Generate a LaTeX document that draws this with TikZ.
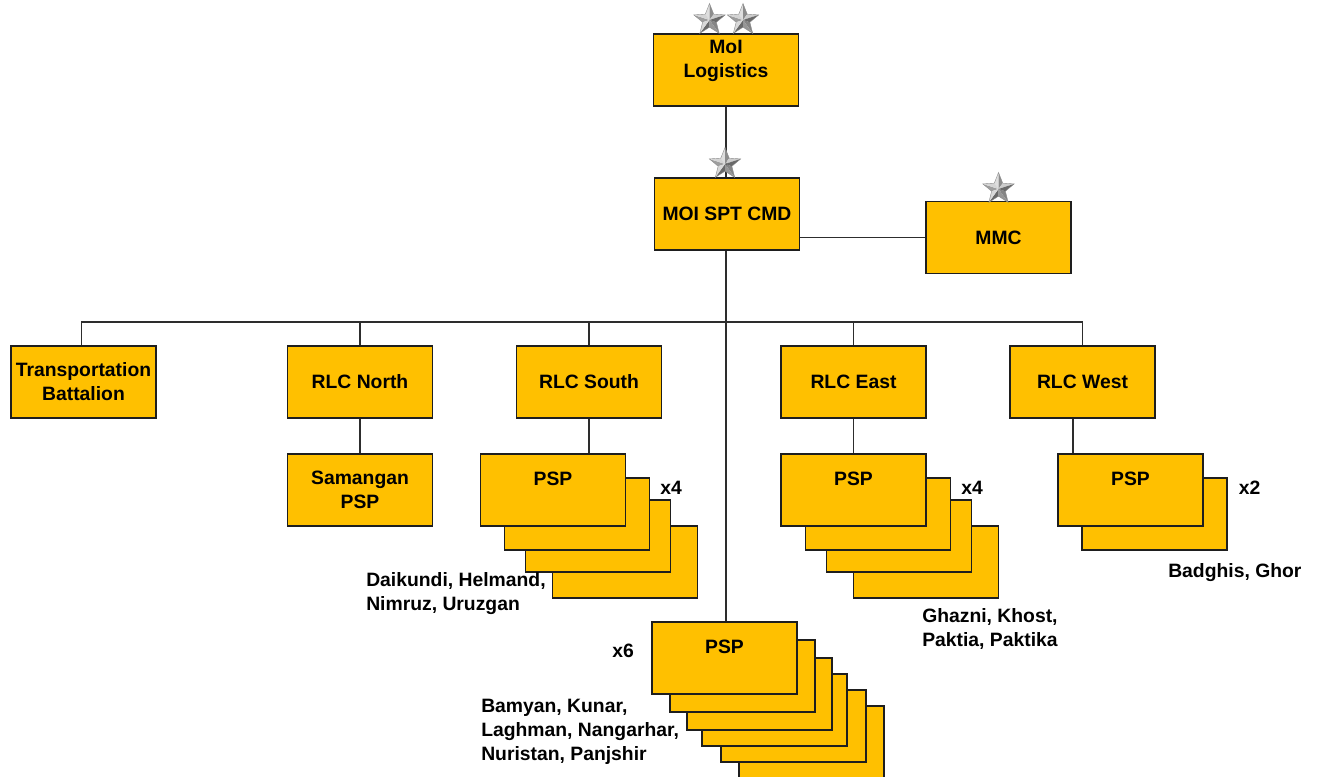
\documentclass[tikz,border=0pt]{standalone}
\usepackage{fontspec}
\setmainfont{Liberation Sans}
\usetikzlibrary{calc}
\definecolor{unitfill}{RGB}{255,192,0}
\definecolor{edgeline}{RGB}{30,30,30}
\definecolor{wireline}{RGB}{45,45,45}

\begin{document}
\begin{tikzpicture}[x=0.75pt,y=-0.75pt,
  unit/.style={draw=edgeline, line width=1.25pt, fill=unitfill,
    minimum width=108.75pt, minimum height=54pt, inner sep=0pt,
    align=center, font=\fontsize{14.5}{18}\selectfont\bfseries},
  caption/.style={inner sep=0pt, align=center, font=\fontsize{14.5}{18}\selectfont\bfseries},
  note/.style={inner sep=0pt, align=left, anchor=west, font=\fontsize{14.5}{18}\selectfont\bfseries},
  wire/.style={draw=wireline, line width=1.1pt},
  rankstar/.pic={
    \begin{scope}[yscale=-1]
      \foreach \k in {0,...,4}{
        \pgfmathsetmacro\a{90+72*\k}
        \pgfmathsetmacro\ia{\a+36}
        \pgfmathsetmacro\ib{\a-36}
        \pgfmathtruncatemacro\da{36-24*cos(\a+68-135)}
        \pgfmathtruncatemacro\db{36-24*cos(\a-68-135)}
        \fill[black!\da] (0,0) -- (\a:16.5) -- (\ia:7.2) -- cycle;
        \fill[black!\db] (0,0) -- (\a:16.5) -- (\ib:7.2) -- cycle;
      }
      \draw[black!45, line width=0.3pt]
        (90:16.5) -- (126:7.2) -- (162:16.5) -- (198:7.2) -- (234:16.5) -- (270:7.2)
        -- (306:16.5) -- (342:7.2) -- (18:16.5) -- (54:7.2) -- cycle;
    \end{scope}
  }
]
\useasboundingbox (0,0) rectangle (1318,777);
\clip (0,0) rectangle (1318,777);

% top of the command chain
\node[unit] (log) at (726,70) {};
\node[caption] (logt) at (726,60.5) {MoI\\Logistics};
\node[unit] (spt) at (727,214) {MOI SPT CMD};
\node[unit] (mmc) at (998.5,237.5) {MMC};

% regional level
\node[unit] (trans) at (83.5,382) {Transportation\\Battalion};
\node[unit] (rn) at (360,382) {RLC North};
\node[unit] (rs) at (589,382) {RLC South};
\node[unit] (re) at (853.5,382) {RLC East};
\node[unit] (rw) at (1082.5,382) {RLC West};

% provincial support points
\node[unit] (sam) at (360,490) {Samangan\\PSP};

\foreach \i/\x/\y in {4/625/562, 3/598/536, 2/577/514, 1/553/490}
  \node[unit] (pS\i) at (\x,\y) {};
\node[caption] (pSt) at ($(pS1.north)+(0,25.5)$) {PSP};

\foreach \i/\x/\y in {4/926/562, 3/899/536, 2/878/514, 1/853.5/490}
  \node[unit] (pE\i) at (\x,\y) {};
\node[caption] (pEt) at ($(pE1.north)+(0,25.5)$) {PSP};

\foreach \i/\x/\y in {2/1154.5/514, 1/1130.5/490}
  \node[unit] (pW\i) at (\x,\y) {};
\node[caption] (pWt) at ($(pW1.north)+(0,25.5)$) {PSP};

\foreach \i/\x/\y in {6/811.5/742, 5/793.5/726, 4/774.5/710, 3/759.5/694, 2/742.5/676, 1/724.5/658}
  \node[unit] (pC\i) at (\x,\y) {};
\node[caption] (pCt) at ($(pC1.north)+(0,25.5)$) {PSP};

% connectors
\coordinate (bus) at (0,322);
\coordinate (rwd) at ($(rw.south)+(-9.5,0)$);
\coordinate (td) at ($(trans.north)+(-2,0)$);
\draw[wire] (log.south) -- (log.south |- spt.north);
\draw[wire] (mmc.west) -- (mmc.west -| spt.east);
\draw[wire] (spt.south) ++(-1,0) coordinate (spine) -- (spine |- pC1.north);
\draw[wire] (td) |- (bus -| rw.north) -- (rw.north);
\foreach \n in {rn,rs,re}
  \draw[wire] (\n.north) -- (\n.north |- bus);
\draw[wire] (rn.south) -- (sam.north);
\draw[wire] (rs.south) -- (rs.south |- pS1.north);
\draw[wire] (re.south) -- (re.south |- pE1.north);
\draw[wire] (rwd) -- (rwd |- pW1.north);

% rank insignia
\pic (s1) at (709.5,20) {rankstar};
\pic (s2) at (743,20) {rankstar};
\pic (s3) at (725,164) {rankstar};
\pic (s4) at (998.5,189) {rankstar};

% counts and province lists
\node[caption] (xS) at (671,488) {x4};
\node[caption] (xE) at (972,488) {x4};
\node[caption] (xW) at (1249.5,488) {x2};
\node[caption] (xC) at (623,651) {x6};
\node[note] (lS) at (366,594) {Daikundi, Helmand,\\Nimruz, Uruzgan};
\node[note] (lE) at (922,629) {Ghazni, Khost,\\Paktia, Paktika};
\node[note] (lW) at (1168,573) {Badghis, Ghor};
\node[note] (lC) at (481,732) {Bamyan, Kunar,\\Laghman, Nangarhar,\\Nuristan, Panjshir};
\end{tikzpicture}
\end{document}
